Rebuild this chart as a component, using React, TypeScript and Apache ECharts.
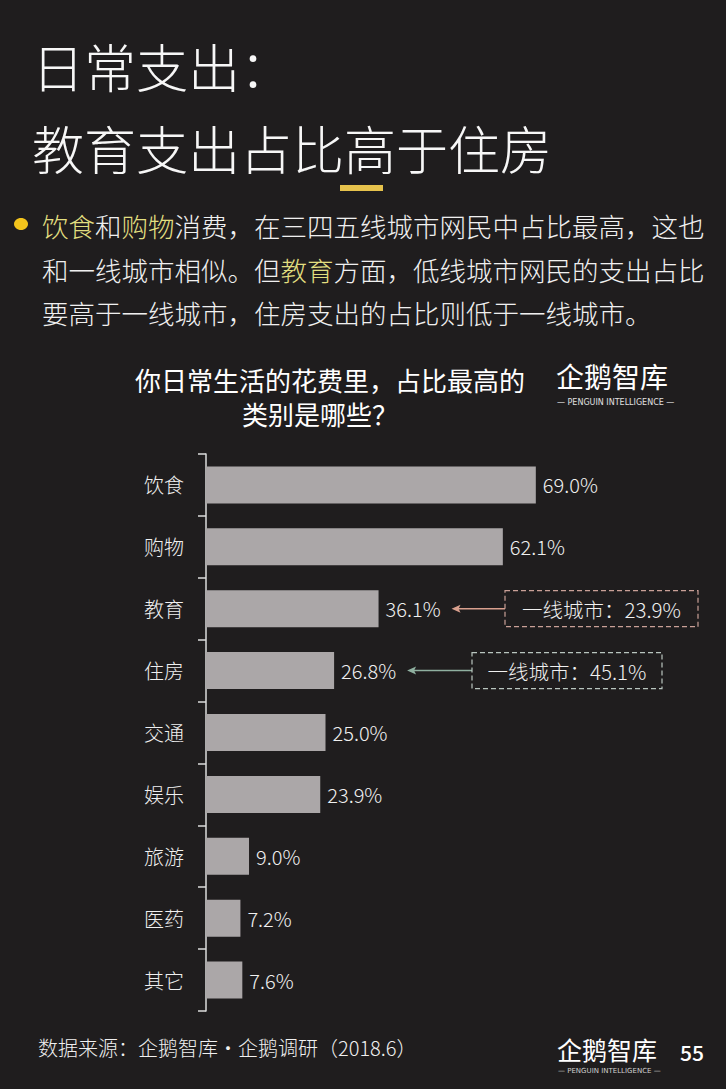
import React, { useEffect, useRef } from 'react';
import * as echarts from 'echarts';

const categories = ['饮食', '购物', '教育', '住房', '交通', '娱乐', '旅游', '医药', '其它'];
const values = [69.0, 62.1, 36.1, 26.8, 25.0, 23.9, 9.0, 7.2, 7.6];
const annotCategories = ['教育', '住房'];
const annotValues = [23.9, 45.1];
const annotPrefix = '一线城市：';

const FONT = '"Noto Sans CJK SC", "Noto Sans", sans-serif';
const BG = '#1f1d1e';
const TXT = '#f0f0f0';
const HL = '#e2df80';

export default function App() {
  const ref = useRef<HTMLDivElement>(null);
  useEffect(() => {
    document.body.style.margin = '0';
    const chart = echarts.init(ref.current!, null, { renderer: 'svg' });

    const staticGraphics: any[] = [
      { type: 'text', left: 32, top: 39, style: { text: '日常支出：', fontSize: 52, fill: '#f7f7f7', fontFamily: FONT, fontWeight: 300 } },
      { type: 'text', left: 32, top: 121, style: { text: '教育支出占比高于住房', fontSize: 52, fill: '#f7f7f7', fontFamily: FONT, fontWeight: 300 } },
      { type: 'rect', shape: { x: 340, y: 185, width: 43, height: 6 }, style: { fill: '#e6c24c' } },
      { type: 'ellipse', shape: { cx: 21, cy: 224, rx: 7, ry: 6 }, style: { fill: '#f3c41c' } },
      {
        type: 'text', left: 42, top: 212,
        style: {
          text: '{h|饮食}和{h|购物}消费，在三四五线城市网民中占比最高，这也',
          fontSize: 26.5, fill: TXT, fontFamily: FONT, fontWeight: 300,
          rich: { h: { fill: HL, fontSize: 26.5, fontFamily: FONT, fontWeight: 300 } },
        },
      },
      {
        type: 'text', left: 42, top: 256,
        style: {
          text: '和一线城市相似。但{h|教育}方面，低线城市网民的支出占比',
          fontSize: 26.5, fill: TXT, fontFamily: FONT, fontWeight: 300,
          rich: { h: { fill: HL, fontSize: 26.5, fontFamily: FONT, fontWeight: 300 } },
        },
      },
      {
        type: 'text', left: 42, top: 299,
        style: { text: '要高于一线城市，住房支出的占比则低于一线城市。', fontSize: 26.5, fill: TXT, fontFamily: FONT, fontWeight: 300 },
      },
      {
        type: 'text', x: 330, y: 379,
        style: { text: '你日常生活的花费里，占比最高的', fontSize: 26, fill: '#ffffff', fontFamily: FONT, fontWeight: 'normal', align: 'center', verticalAlign: 'middle' },
      },
      {
        type: 'text', x: 320, y: 413,
        style: { text: '类别是哪些？', fontSize: 26, fill: '#ffffff', fontFamily: FONT, fontWeight: 'normal', align: 'center', verticalAlign: 'middle' },
      },
      { type: 'text', left: 556, top: 362, style: { text: '企鹅智库', fontSize: 28, fill: '#ffffff', fontFamily: FONT, fontWeight: 400 } },
      { type: 'text', left: 557, top: 398, style: { text: '— PENGUIN INTELLIGENCE —', fontSize: 8, fill: '#e0e0e0', fontFamily: 'DejaVu Sans, sans-serif' } },
      { type: 'text', left: 38, top: 1037, style: { text: '数据来源：企鹅智库·企鹅调研（2018.6）', fontSize: 20, fill: TXT, fontFamily: FONT, fontWeight: 300 } },
      { type: 'text', left: 557, top: 1036, style: { text: '企鹅智库', fontSize: 25, fill: '#ffffff', fontFamily: FONT, fontWeight: 400 } },
      { type: 'text', left: 558, top: 1067, style: { text: '— PENGUIN INTELLIGENCE —', fontSize: 7, fill: '#d0d0d0', fontFamily: 'DejaVu Sans, sans-serif' } },
      { type: 'text', left: 680, top: 1041, style: { text: '55', fontSize: 21, fill: '#ffffff', fontFamily: FONT, fontWeight: 500 } },
    ];

    const option: any = {
      animation: false,
      backgroundColor: BG,
      grid: { left: 206, top: 454, width: 478, height: 557, containLabel: false },
      xAxis: { type: 'value', min: 0, max: 100, show: false },
      yAxis: {
        type: 'category',
        data: categories,
        inverse: true,
        axisLine: { show: true, lineStyle: { color: '#dddddd', width: 1.5 } },
        axisTick: { show: true, length: 8, lineStyle: { color: '#dddddd', width: 1.5 } },
        axisLabel: { color: TXT, fontSize: 20, fontFamily: FONT, margin: 22, fontWeight: 300 },
        splitLine: { show: false },
      },
      series: [
        {
          type: 'bar',
          data: values,
          barWidth: 37,
          itemStyle: { color: '#aba7a8' },
          label: {
            show: true,
            position: 'right',
            distance: 7,
            color: TXT,
            fontSize: 20,
            fontFamily: FONT,
            fontWeight: 300,
            formatter: (p: any) => Number(p.value).toFixed(1) + '%',
          },
        },
      ],
      graphic: staticGraphics,
    };
    chart.setOption(option);

    const boxStyles = [
      { boxLeft: 505, boxWidth: 193, border: '#c9a097', arrow: '#d9a08e' },
      { boxLeft: 472, boxWidth: 190, border: '#b9c5bf', arrow: '#8fb0a0' },
    ];
    const annots: any[] = [];
    annotCategories.forEach((c, i) => {
      const idx = categories.indexOf(c);
      const pt = chart.convertToPixel({ gridIndex: 0 }, [values[idx], idx]) as number[];
      const xEnd = pt[0];
      const y = pt[1];
      const tip = xEnd + 73;
      const st = boxStyles[i];
      annots.push(
        { type: 'line', shape: { x1: tip + 6, y1: y, x2: st.boxLeft, y2: y }, style: { stroke: st.arrow, lineWidth: 1.5 } },
        { type: 'polygon', shape: { points: [[tip, y], [tip + 9, y - 4], [tip + 7, y], [tip + 9, y + 4]] }, style: { fill: st.arrow } },
        { type: 'rect', shape: { x: st.boxLeft, y: y - 18, width: st.boxWidth, height: 36 }, style: { fill: 'none', stroke: st.border, lineWidth: 1.2, lineDash: [5, 3] } },
        {
          type: 'text', x: st.boxLeft + st.boxWidth / 2, y: y,
          style: { text: annotPrefix + annotValues[i].toFixed(1) + '%', fontSize: 20.5, fill: TXT, fontFamily: FONT, fontWeight: 300, align: 'center', verticalAlign: 'middle' },
        },
      );
    });
    chart.setOption({ graphic: [...staticGraphics, ...annots] });

    return () => chart.dispose();
  }, []);
  return <div ref={ref} style={{ position: 'fixed', left: 0, top: 0, width: 726, height: 1089 }} />;
}
